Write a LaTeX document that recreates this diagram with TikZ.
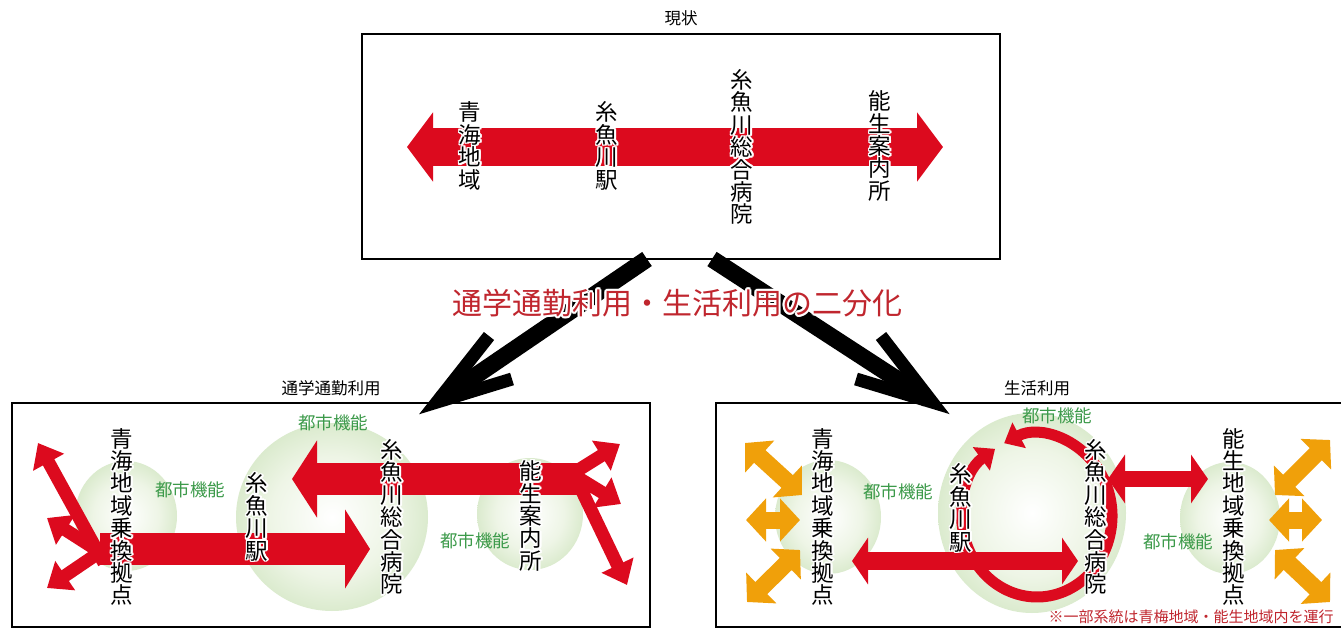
\documentclass[tikz,border=0pt]{standalone}
\usepackage{fontspec}
\newfontfamily\jp{Noto Sans CJK JP}
\usetikzlibrary{arrows.meta,calc}
\definecolor{rd}{HTML}{DC0A1E}
\definecolor{org}{HTML}{F0A00A}
\definecolor{grn}{HTML}{3C9A4A}
\definecolor{drd}{HTML}{C0262E}
\definecolor{gin}{HTML}{EEF5E6}
\definecolor{gout}{HTML}{A6CE8B}
\pgfdeclareradialshading{glow}{\pgfpoint{0bp}{0bp}}{color(0bp)=(white); color(16bp)=(gin); color(50bp)=(gout)}
\newcommand\halonode[5][1.6]{%
  \foreach \hA in {0,30,...,330}{\node[#4,text=white] at ($(#3)+(\hA:#1)$) {#5};}
  \node[#4] (#2) at (#3) {#5};}
\tikzset{
  box/.style={draw=black, line width=2pt},
  ttl/.style={font=\jp\fontsize{16.5}{17}\selectfont, inner sep=0pt},
  vlab/.style={font=\jp\fontsize{22.5}{22.4}\selectfont, align=center, inner sep=0pt},
  glab/.style={font=\jp\fontsize{17.5}{18}\selectfont, text=grn, inner sep=0pt},
  mid/.style={font=\jp\fontsize{30}{32}\selectfont, text=drd, inner sep=0pt},
  note/.style={font=\jp\fontsize{15}{16}\selectfont, text=drd, inner sep=0pt},
  glowc/.style={shading=glow},
  blkshaft/.style={draw=black, line width=17pt, shorten >=5pt},
  blkhead/.style={draw=black, line width=13pt, miter limit=20},
  fanr/.style={draw=rd, line width=13pt, -{Triangle[length=22pt,width=34pt]}},
  orng/.style={draw=org, line width=17pt, {Triangle[length=20pt,width=42pt]}-{Triangle[length=20pt,width=42pt]}},
}
\begin{document}
\begin{tikzpicture}[x=1pt,y=1pt,yscale=-1]
\useasboundingbox (0,0) rectangle (1341,628);
\fill[white] (0,0) rectangle (1341,628);

% ---------- top box ----------
\draw[box] (362,34) rectangle (1000,259);
\node[ttl] (tA) at (681,18) {現状};
\draw[rd, line width=38pt, {Triangle[length=26pt,width=68pt]}-{Triangle[length=26pt,width=68pt]}] (407,147) -- (943,147);
\halonode{T1}{470,146}{vlab}{青\\海\\地\\域}
\halonode{T2}{607,146}{vlab}{糸\\魚\\川\\駅}
\halonode{T3}{742,147}{vlab}{糸\\魚\\川\\総\\合\\病\\院}
\halonode{T4}{880,146}{vlab}{能\\生\\案\\内\\所}

% ---------- black split arrows ----------
\coordinate (LA0) at (647,259);
\coordinate (LAt) at (437,402);
\coordinate (LAb1) at (489,336);
\coordinate (LAb2) at (512,379);
\coordinate (RA0) at (712,259);
\coordinate (RAt) at (932,402);
\coordinate (RAb1) at (881,336);
\coordinate (RAb2) at (856,379);
\draw[blkshaft] (LA0) -- (LAt);
\draw[blkhead] (LAb1) -- (LAt) -- (LAb2);
\draw[blkshaft] (RA0) -- (RAt);
\draw[blkhead] (RAb1) -- (RAt) -- (RAb2);
\halonode[2]{M}{677,303}{mid}{通学通勤利用・生活利用の二分化}

% ---------- bottom-left box ----------
\draw[box] (12,403) rectangle (650,627);
\node[ttl] (tB) at (331,388) {通学通勤利用};
\shade[glowc] (126,516) ellipse [x radius=51pt, y radius=55pt];
\shade[glowc] (332,517) ellipse [x radius=96pt, y radius=94pt];
\shade[glowc] (530,514) ellipse [x radius=53pt, y radius=56pt];
\node[glab] (gB1) at (190,490) {都市機能};
\node[glab] (gB2) at (333,423) {都市機能};
\node[glab] (gB3) at (475,541) {都市機能};
% fans
\draw[fanr] (104,563) -- (38,443);
\draw[fanr] (100,552) -- (47,518);
\draw[fanr] (100,552) -- (47,588);
\draw[fanr] (572,474) -- (620,444);
\draw[fanr] (572,474) -- (621,504);
\draw[fanr] (570,466) -- (627,585);
% main red arrows
\draw[rd, line width=32pt, -{Triangle[length=25pt,width=78pt]}] (100,549) -- (370,549);
\draw[rd, line width=32pt, -{Triangle[length=25pt,width=76pt]}] (580,479) -- (292,479);
\halonode{L1}{122,517}{vlab}{青\\海\\地\\域\\乗\\換\\拠\\点}
\halonode{L2}{257,517}{vlab}{糸\\魚\\川\\駅}
\halonode{L3}{392,517}{vlab}{糸\\魚\\川\\総\\合\\病\\院}
\halonode{L4}{531,516}{vlab}{能\\生\\案\\内\\所}

% ---------- bottom-right box ----------
\draw[box] (716,403) rectangle (1360,627);
\node[ttl] (tC) at (1037,388) {生活利用};
\shade[glowc] (828,517) ellipse [x radius=53pt, y radius=57pt];
\shade[glowc] (1032,513) ellipse [x radius=94pt, y radius=100pt];
\shade[glowc] (1230,518) ellipse [x radius=50pt, y radius=56pt];
\node[glab] (gC1) at (898,492) {都市機能};
\node[glab] (gC2) at (1057,416) {都市機能};
\node[glab] (gC3) at (1178,542) {都市機能};
% orange arrows
\draw[orng] (745,443) -- (802,495);
\draw[orng] (746,520) -- (800,520);
\draw[orng] (747,602) -- (800,550);
\draw[orng] (1275,495) -- (1330,440);
\draw[orng] (1269,520) -- (1322,520);
\draw[orng] (1275,550) -- (1330,602);
% loop arrows
\coordinate (C) at (1037,516);
\draw[rd, line width=11pt, -{Triangle[length=17pt,width=28pt]}] ($(C)+(150:75pt and 81pt)$) arc[start angle=150, end angle=236, x radius=75pt, y radius=81pt];
\draw[rd, line width=11pt, -{Triangle[length=17pt,width=28pt]}] ($(C)+(150:75pt and 81pt)$) arc[start angle=150, end angle=-116, x radius=75pt, y radius=81pt];
\draw[rd, line width=18pt, {Triangle[length=16pt,width=46pt]}-{Triangle[length=16pt,width=46pt]}] (852,561) -- (1078,561);
\draw[rd, line width=16pt, {Triangle[length=17pt,width=48pt]}-{Triangle[length=17pt,width=48pt]}] (1108,479) -- (1208,479);
\halonode{R1}{823,517}{vlab}{青\\海\\地\\域\\乗\\換\\拠\\点}
\halonode{R2}{961,508}{vlab}{糸\\魚\\川\\駅}
\halonode{R3}{1096,517}{vlab}{糸\\魚\\川\\総\\合\\病\\院}
\halonode{R4}{1234,517}{vlab}{能\\生\\地\\域\\乗\\換\\拠\\点}
\node[note] (nt) at (1191,617) {※一部系統は青梅地域・能生地域内を運行};
\end{tikzpicture}
\end{document}
